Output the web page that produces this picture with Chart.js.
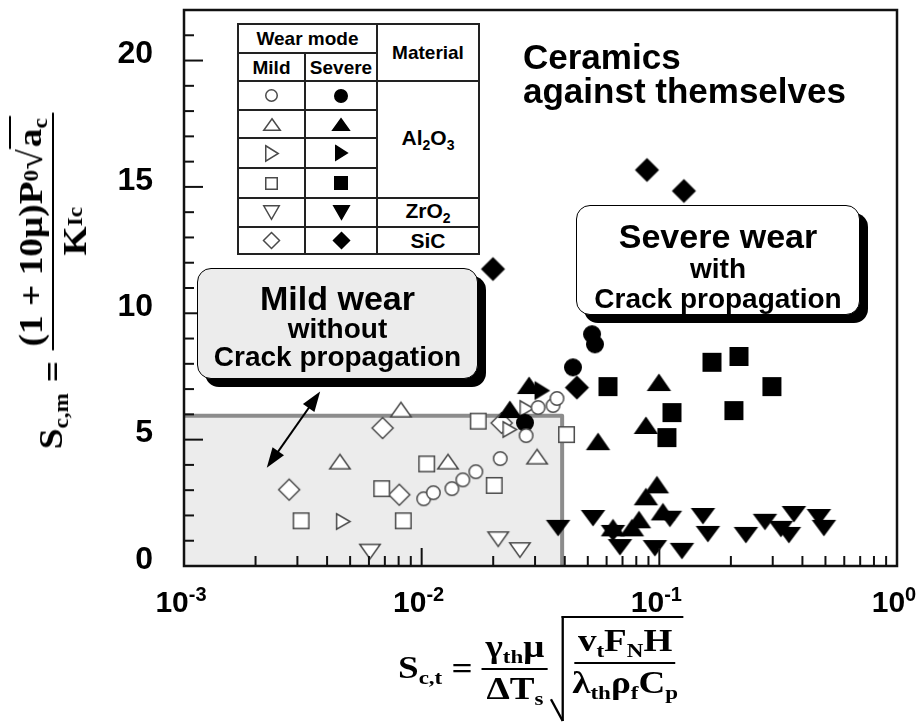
<!DOCTYPE html>
<html>
<head>
<meta charset="utf-8">
<title>Ceramics against themselves</title>
<script src="https://cdn.jsdelivr.net/npm/chart.js@4.4.1/dist/chart.umd.min.js"></script>
<style>
  body { margin: 0; background: #fff; }
  #lienzo { position: relative; width: 922px; height: 722px; overflow: hidden; font-family: "Liberation Sans", Arial, sans-serif; color: #000; }
  #grafico { position: absolute; left: 0; top: 0; }

  /* tabla de simbolos */
  #leyenda { position: absolute; left: 237px; top: 23px; border-collapse: collapse; table-layout: fixed; background: #fff; font-weight: bold; font-size: 19px; }
  #leyenda td, #leyenda th { border: 2px solid #222; padding: 0; text-align: center; vertical-align: middle; line-height: 1; }
  #leyenda canvas { display: block; margin: 0 auto; }
  #leyenda .mat { font-size: 21px; }
  #leyenda sub { font-size: 14px; vertical-align: -5px; }

  /* cajas de texto */
  .caja { position: absolute; box-sizing: border-box; border: 1.5px solid #000; border-radius: 14px; box-shadow: 8px 8px 0 #000; text-align: center; font-weight: bold; }
  .caja div { white-space: nowrap; }
  #titulo { position: absolute; left: 523px; top: 40px; font-weight: bold; font-size: 35px; line-height: 34px; white-space: nowrap; }

  /* formulas de los ejes */
  .formula { position: absolute; display: flex; align-items: center; font-family: "Liberation Serif", "DejaVu Serif", serif; font-weight: bold; white-space: nowrap; }
  .formula sub { font-size: 0.62em; vertical-align: -0.28em; }
  .frac { display: inline-flex; flex-direction: column; align-items: center; }
  .frac .num { border-bottom: 2px solid #000; padding: 0 3px; }
  .frac .den { padding: 0 3px; }
  .raiz-corta { border-top: 2px solid #000; padding: 0 2px; }
  .radicando { position: relative; border-top: 2px solid #000; border-left: 2px solid #000; padding: 4px 2px 18px 4px; }
  .radicando::before { content: ''; position: absolute; left: -2px; bottom: 0; width: 2px; height: 24px; background: #000; transform: rotate(-25deg); transform-origin: bottom center; }

  #ejeY { left: -112px; top: 236px; width: 330px; height: 90px; font-size: 34px; transform: rotate(-90deg) scaleX(1.1); justify-content: center; }
  #ejeY .num, #ejeY .den { height: 42px; display: flex; align-items: center; }
  #ejeX { left: 398px; top: 616px; font-size: 32px; transform: scaleX(1.16); transform-origin: left center; }
</style>
</head>
<body>
<div id="lienzo">
  <canvas id="grafico" width="922" height="722"></canvas>

  <table id="leyenda">
    <colgroup><col style="width:67px"><col style="width:72px"><col style="width:102px"></colgroup>
    <tr style="height:29px"><th colspan="2">Wear mode</th><th rowspan="2">Material</th></tr>
    <tr style="height:28px"><th>Mild</th><th>Severe</th></tr>
    <tr style="height:29px"><td id="ley-c0"></td><td id="ley-c1"></td><td rowspan="4" class="mat">Al<sub>2</sub>O<sub>3</sub></td></tr>
    <tr style="height:28px"><td id="ley-t0"></td><td id="ley-t1"></td></tr>
    <tr style="height:30px"><td id="ley-r0"></td><td id="ley-r1"></td></tr>
    <tr style="height:30px"><td id="ley-s0"></td><td id="ley-s1"></td></tr>
    <tr style="height:29px"><td id="ley-i0"></td><td id="ley-i1"></td><td class="mat">ZrO<sub>2</sub></td></tr>
    <tr style="height:27px"><td id="ley-d0"></td><td id="ley-d1"></td><td class="mat">SiC</td></tr>
  </table>

  <div id="titulo">Ceramics<br>against themselves</div>

  <div class="caja" style="left:576px; top:205px; width:284px; height:110px; background:#fff; padding-top:13px;">
    <div style="font-size:34px; line-height:34px;">Severe wear</div>
    <div style="font-size:28px; line-height:31px;">with</div>
    <div style="font-size:28px; line-height:30px;">Crack propagation</div>
  </div>

  <div class="caja" style="left:197px; top:268px; width:281px; height:111px; background:#ececec; padding-top:12px;">
    <div style="font-size:34px; line-height:34px;">Mild wear</div>
    <div style="font-size:28px; line-height:28px;">without</div>
    <div style="font-size:28px; line-height:28px;">Crack propagation</div>
  </div>

  <div class="formula" id="ejeY">
    <span>S<sub>c,m</sub></span>
    <span style="margin:0 10px;">=</span>
    <span class="frac">
      <span class="num">(1 + 10μ)P<sub>0</sub>√<span class="raiz-corta">a<sub>c</sub></span></span>
      <span class="den">K<sub>Ic</sub></span>
    </span>
  </div>

  <div class="formula" id="ejeX">
    <span>S<sub>c,t</sub></span>
    <span style="margin:0 8px;">=</span>
    <span class="frac">
      <span class="num">γ<sub>th</sub>μ</span>
      <span class="den">ΔT<sub>s</sub></span>
    </span>
    <span class="radicando" style="margin-left:12px;">
      <span class="frac">
        <span class="num">v<sub>t</sub>F<sub>N</sub>H</span>
        <span class="den">λ<sub>th</sub>ρ<sub>f</sub>C<sub>p</sub></span>
      </span>
    </span>
  </div>
</div>

<script>
document.addEventListener('DOMContentLoaded', () => {

    // --- DATOS (x = S_c,t, y = S_c,m) ---
    const xTickExponents = [-3, -2, -1, 0];
    const yTickLabels = [0, 5, 10, 15, 20];

    // Al2O3, circulos
    const mildCircles = [[0.0102, 2.66], [0.0112, 2.90], [0.0134, 3.06], [0.0149, 3.41], [0.0169, 3.73],
                         [0.0214, 4.25], [0.0275, 5.16], [0.0309, 6.27], [0.0357, 6.35], [0.0371, 6.63]];
    const severeCircles = [[0.0521, 9.17], [0.0536, 8.77], [0.0433, 7.86], [0.0272, 5.67]];

    // Al2O3, triangulos
    const mildTriangles = [[0.00818, 6.19], [0.00453, 4.13], [0.0129, 4.13], [0.0306, 4.33]];
    const severeTriangles = [[0.0283, 7.14], [0.0235, 6.19], [0.0552, 4.92], [0.0996, 7.26], [0.0878, 5.56],
                             [0.0977, 3.21], [0.0878, 2.74], [0.0821, 1.83], [0.0767, 1.51], [0.0638, 1.51],
                             [0.1035, 2.14]];

    // Al2O3, triangulos a la derecha
    const mildRightTriangles = [[0.00468, 1.76], [0.0235, 5.40], [0.0277, 6.23]];
    const severeRightTriangles = [[0.0321, 6.94]];

    // Al2O3, cuadrados
    const mildSquares = [[0.00311, 1.79], [0.00679, 3.06], [0.00837, 1.79], [0.0105, 4.04], [0.0173, 5.73],
                         [0.0202, 3.19], [0.0407, 5.20]];
    const severeSquares = [[0.0608, 7.10], [0.113, 6.07], [0.1076, 5.08], [0.1665, 8.06], [0.2163, 8.29],
                           [0.206, 6.15], [0.2977, 7.10]];

    // ZrO2, triangulos invertidos
    const mildInvTriangles = [[0.00606, 0.57], [0.0210, 1.06], [0.0259, 0.63]];
    const severeInvTriangles = [[0.0375, 1.51], [0.0526, 1.90], [0.0638, 1.31], [0.0683, 0.75], [0.0958, 0.71],
                                [0.1108, 1.87], [0.1245, 0.60], [0.1526, 1.98], [0.1601, 1.27], [0.2314, 1.23],
                                [0.2782, 1.75], [0.3248, 1.47], [0.351, 1.23], [0.3684, 2.06], [0.4693, 1.94],
                                [0.4927, 1.51]];

    // SiC, rombos
    const mildDiamonds = [[0.00685, 5.46], [0.00277, 3.02], [0.00805, 2.82], [0.0217, 5.66]];
    const severeDiamonds = [[0.0887, 15.67], [0.1269, 14.84], [0.01995, 11.75], [0.0450, 7.06]];

    // limite de la zona de desgaste suave y flecha doble
    const mildLimit = [0.039, 5.95];
    const arrowEnds = [[0.00223, 3.89], [0.00374, 6.90]];

    // --- MARCADORES ---
    function marker(shape, filled, w, h) {
        const pad = 2;
        const c = document.createElement('canvas');
        c.width = w + pad * 2;
        c.height = h + pad * 2;
        const g = c.getContext('2d');
        g.translate(pad, pad);
        g.beginPath();
        if (shape === 'circle') {
            g.arc(w / 2, h / 2, w / 2 - 0.75, 0, Math.PI * 2);
        } else if (shape === 'square') {
            g.rect(0.75, 0.75, w - 1.5, h - 1.5);
        } else if (shape === 'up') {
            g.moveTo(w / 2, 0.75); g.lineTo(w - 0.75, h - 0.75); g.lineTo(0.75, h - 0.75);
        } else if (shape === 'down') {
            g.moveTo(0.75, 0.75); g.lineTo(w - 0.75, 0.75); g.lineTo(w / 2, h - 0.75);
        } else if (shape === 'right') {
            g.moveTo(0.75, 0.75); g.lineTo(w - 0.75, h / 2); g.lineTo(0.75, h - 0.75);
        } else if (shape === 'diamond') {
            g.moveTo(w / 2, 0.5); g.lineTo(w - 0.5, h / 2); g.lineTo(w / 2, h - 0.5); g.lineTo(0.5, h / 2);
        }
        g.closePath();
        g.fillStyle = filled ? '#000' : '#fff';
        g.fill();
        g.lineWidth = 1.5;
        g.strokeStyle = filled ? '#000' : '#4a4a4a';
        g.stroke();
        return c;
    }

    const series = [
        { data: mildCircles,          style: marker('circle', false, 15, 15) },
        { data: severeCircles,        style: marker('circle', true, 18, 18) },
        { data: severeRightTriangles, style: marker('right', true, 15, 18) },
        { data: severeTriangles,      style: marker('up', true, 23, 17) },
        { data: severeDiamonds,       style: marker('diamond', true, 23, 23) },
        { data: severeSquares,        style: marker('square', true, 19, 19) },
        { data: severeInvTriangles,   style: marker('down', true, 23, 16) },
        { data: mildRightTriangles,   style: marker('right', false, 15, 17) },
        { data: mildTriangles,        style: marker('up', false, 22, 16) },
        { data: mildSquares,          style: marker('square', false, 17, 17) },
        { data: mildInvTriangles,     style: marker('down', false, 22, 16) },
        { data: mildDiamonds,         style: marker('diamond', false, 22, 22) }
    ];

    // simbolos de la tabla
    const legendCells = {
        'ley-c0': marker('circle', false, 13, 13), 'ley-c1': marker('circle', true, 14, 14),
        'ley-t0': marker('up', false, 18, 13),     'ley-t1': marker('up', true, 18, 13),
        'ley-r0': marker('right', false, 14, 17),  'ley-r1': marker('right', true, 13, 16),
        'ley-s0': marker('square', false, 13, 13), 'ley-s1': marker('square', true, 14, 14),
        'ley-i0': marker('down', false, 17, 15),   'ley-i1': marker('down', true, 17, 15),
        'ley-d0': marker('diamond', false, 17, 17),'ley-d1': marker('diamond', true, 17, 17)
    };
    Object.keys(legendCells).forEach(id => document.getElementById(id).appendChild(legendCells[id]));

    // --- DECORACION: zona gris, flecha, marco, marcas y etiquetas ---
    const decorations = {
        id: 'decorations',
        beforeDatasetsDraw(chart) {
            const { ctx, chartArea: a, scales: { x, y } } = chart;
            const xl = x.getPixelForValue(mildLimit[0]);
            const yl = y.getPixelForValue(mildLimit[1]);
            ctx.save();
            ctx.fillStyle = '#ececec';
            ctx.fillRect(a.left, yl, xl - a.left, a.bottom - yl);
            ctx.strokeStyle = '#8c8c8c';
            ctx.lineWidth = 4;
            ctx.lineJoin = 'round';
            ctx.beginPath();
            ctx.moveTo(a.left, yl);
            ctx.lineTo(xl, yl);
            ctx.lineTo(xl, a.bottom);
            ctx.stroke();

            // flecha doble
            const x1 = x.getPixelForValue(arrowEnds[0][0]), y1 = y.getPixelForValue(arrowEnds[0][1]);
            const x2 = x.getPixelForValue(arrowEnds[1][0]), y2 = y.getPixelForValue(arrowEnds[1][1]);
            const ang = Math.atan2(y2 - y1, x2 - x1);
            const head = 20, half = 7;
            ctx.strokeStyle = '#000';
            ctx.fillStyle = '#000';
            ctx.lineWidth = 2;
            ctx.beginPath();
            ctx.moveTo(x1 + Math.cos(ang) * head * 0.8, y1 + Math.sin(ang) * head * 0.8);
            ctx.lineTo(x2 - Math.cos(ang) * head * 0.8, y2 - Math.sin(ang) * head * 0.8);
            ctx.stroke();
            [[x1, y1, ang], [x2, y2, ang + Math.PI]].forEach(([px, py, t]) => {
                ctx.beginPath();
                ctx.moveTo(px, py);
                ctx.lineTo(px + Math.cos(t) * head - Math.sin(t) * half, py + Math.sin(t) * head + Math.cos(t) * half);
                ctx.lineTo(px + Math.cos(t) * head + Math.sin(t) * half, py + Math.sin(t) * head - Math.cos(t) * half);
                ctx.closePath();
                ctx.fill();
            });
            ctx.restore();
        },
        afterDatasetsDraw(chart) {
            const { ctx, chartArea: a, scales: { x, y } } = chart;
            ctx.save();
            ctx.strokeStyle = '#111';
            ctx.lineWidth = 2.5;
            ctx.strokeRect(a.left, a.top, a.right - a.left, a.bottom - a.top);

            // marcas del eje y (hacia dentro)
            ctx.lineWidth = 2;
            for (let v = 0; v <= 22; v++) {
                const py = y.getPixelForValue(v);
                ctx.beginPath();
                ctx.moveTo(a.left, py);
                ctx.lineTo(a.left + (v % 5 === 0 ? 19 : 10), py);
                ctx.stroke();
            }
            // marcas del eje x (logaritmico)
            xTickExponents.forEach(e => {
                for (let m = 1; m <= 9; m++) {
                    const v = m * Math.pow(10, e);
                    if (v > 1) break;
                    const px = x.getPixelForValue(v);
                    ctx.beginPath();
                    ctx.moveTo(px, a.bottom);
                    ctx.lineTo(px, a.bottom - (m === 1 ? 18 : 10));
                    ctx.stroke();
                }
            });

            // etiquetas
            ctx.fillStyle = '#000';
            ctx.font = 'bold 32px "Liberation Sans", Arial, sans-serif';
            ctx.textAlign = 'right';
            ctx.textBaseline = 'middle';
            yTickLabels.forEach(v => ctx.fillText(String(v), a.left - 31, y.getPixelForValue(v) - 6));

            ctx.textAlign = 'left';
            ctx.textBaseline = 'alphabetic';
            xTickExponents.forEach(e => {
                const px = x.getPixelForValue(Math.pow(10, e));
                const base = '10', exp = String(e);
                ctx.font = 'bold 30px "Liberation Sans", Arial, sans-serif';
                const wb = ctx.measureText(base).width;
                ctx.font = 'bold 20px "Liberation Sans", Arial, sans-serif';
                const we = ctx.measureText(exp).width;
                const left = px - 3 - (wb + we) / 2;
                ctx.font = 'bold 30px "Liberation Sans", Arial, sans-serif';
                ctx.fillText(base, left, a.bottom + 46);
                ctx.font = 'bold 20px "Liberation Sans", Arial, sans-serif';
                ctx.fillText(exp, left + wb, a.bottom + 35);
            });
            ctx.restore();
        }
    };

    // --- GRAFICO ---
    const ctx = document.getElementById('grafico').getContext('2d');
    new Chart(ctx, {
        type: 'scatter',
        data: {
            datasets: series.map(s => ({
                data: s.data.map(([vx, vy]) => ({ x: vx, y: vy })),
                pointStyle: s.style,
                pointRadius: 8,
                pointHoverRadius: 8
            }))
        },
        options: {
            responsive: false,
            animation: false,
            devicePixelRatio: 1,
            layout: { padding: { left: 184, right: 25, top: 10, bottom: 156 } },
            plugins: { legend: { display: false }, tooltip: { enabled: false } },
            scales: {
                x: {
                    type: 'logarithmic', min: 0.001, max: 1,
                    grid: { display: false, drawTicks: false },
                    border: { display: false },
                    ticks: { display: false }
                },
                y: {
                    min: 0, max: 22,
                    grid: { display: false, drawTicks: false },
                    border: { display: false },
                    ticks: { display: false }
                }
            }
        },
        plugins: [decorations]
    });
});
</script>
</body>
</html>
